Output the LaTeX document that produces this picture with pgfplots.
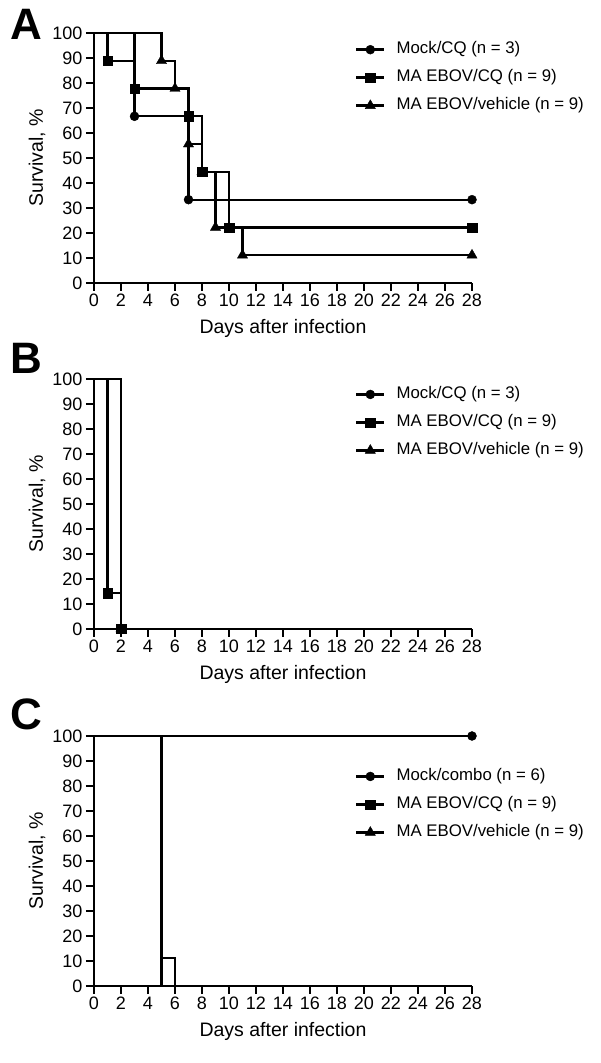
\documentclass[border=0pt]{standalone}
\usepackage{pgfplots}
\pgfplotsset{compat=1.18}
\usepackage{fontspec}
\setmainfont{Liberation Sans}
\pgfplotsset{
  panel/.style={
    width=378pt, height=250pt, scale only axis,
    xmin=0, xmax=28, ymin=0, ymax=100, clip=false,
    axis x line*=bottom, axis y line*=left,
    axis line style={line width=2pt, black},
    xtick={0,2,...,28}, ytick={0,10,...,100},
    tick align=outside, major tick length=8pt,
    tick style={line width=2pt, black},
    tick label style={font=\fontsize{18}{18}\selectfont},
    xticklabel style={text height=13pt, text depth=0pt, yshift=1.5pt},
    /pgf/number format/assume math mode=true,
    xlabel={Days after infection}, ylabel={Survival, \%},
    every axis x label/.style={at={(axis description cs:0.5,-0.204)}, anchor=base, font=\fontsize{19.5}{19.5}\selectfont},
    every axis y label/.style={at={(axis description cs:-0.1508,0.5)}, rotate=90, anchor=center, font=\fontsize{19.5}{19.5}\selectfont},
    legend cell align=left,
    legend style={draw=none, fill=none, anchor=north west,
      font=\fontsize{16.8}{16.8}\selectfont, row sep=10pt,
      inner sep=0pt,
      nodes={inner sep=1pt, text height=12pt, text depth=4pt},
      /tikz/column 1/.style={column sep=10pt}},
    legend image code/.code={\draw[#1,mark repeat=2,mark phase=2] plot coordinates {(0pt,0pt) (14pt,0pt) (28pt,0pt)};},
  },
  ser/.style={black, line width=2.3pt, const plot, no marks, forget plot},
  mk/.style={black, only marks, forget plot, mark options={solid, fill=black, line width=0.4pt}},
  mcirc/.style={mark=*, mark size=4.5pt},
  msq/.style={mark=square*, mark size=4.7pt},
  mtri/.style={mark=triangle*, mark size=5.9pt},
  limg/.style={black, line width=2.6pt, mark options={solid, fill=black, line width=0.4pt}},
}
\begin{document}
\begin{tikzpicture}
\path[use as bounding box] (0pt,0pt) rectangle (600pt,1063pt);
% ---------------- Panel A ----------------
\node[anchor=base west, font=\fontsize{44}{44}\selectfont\bfseries, inner sep=0pt] at (10pt,1023pt) {A};
\begin{axis}[panel, at={(94pt,780pt)}, anchor=south west,
  legend style={at={(axis description cs:0.69,0.97)}}]
\addlegendimage{limg, mcirc}\addlegendentry{Mock/CQ (n = 3)}
\addlegendimage{limg, msq}\addlegendentry{MA EBOV/CQ (n = 9)}
\addlegendimage{limg, mtri}\addlegendentry{MA EBOV/vehicle (n = 9)}
% lines
\addplot[ser] coordinates {(0,100) (3,66.67) (7,33.33) (28,33.33)};
\addplot[ser] coordinates {(0,100) (1,88.89) (3,77.78) (7,66.67) (8,44.44) (10,22.22) (28,22.22)};
\addplot[ser] coordinates {(0,100) (5,88.89) (6,77.78) (7,55.56) (8,44.44) (9,22.22) (11,11.11) (28,11.11)};
% marks
\addplot[mk, mtri] coordinates {(5,88.89) (6,77.78) (7,55.56) (8,44.44) (9,22.22) (11,11.11) (28,11.11)};
\addplot[mk, mcirc] coordinates {(3,66.67) (7,33.33) (28,33.33)};
\addplot[mk, msq] coordinates {(1,88.89) (3,77.78) (7,66.67) (8,44.44) (10,22.22) (28,22.22)};
\end{axis}
% ---------------- Panel B ----------------
\node[anchor=base west, font=\fontsize{44}{44}\selectfont\bfseries, inner sep=0pt] at (10pt,689pt) {B};
\begin{axis}[panel, at={(94pt,434pt)}, anchor=south west,
  legend style={at={(axis description cs:0.69,0.975)}}]
\addlegendimage{limg, mcirc}\addlegendentry{Mock/CQ (n = 3)}
\addlegendimage{limg, msq}\addlegendentry{MA EBOV/CQ (n = 9)}
\addlegendimage{limg, mtri}\addlegendentry{MA EBOV/vehicle (n = 9)}
\addplot[ser] coordinates {(0,100) (2,0)};
\addplot[ser] coordinates {(0,100) (2,0)};
\addplot[ser] coordinates {(0,100) (1,14.29) (2,0)};
\addplot[mk, mcirc] coordinates {(2,0)};
\addplot[mk, mtri] coordinates {(2,0)};
\addplot[mk, msq] coordinates {(1,14.29) (2,0)};
\end{axis}
% ---------------- Panel C ----------------
\node[anchor=base west, font=\fontsize{44}{44}\selectfont\bfseries, inner sep=0pt] at (10pt,333pt) {C};
\begin{axis}[panel, at={(94pt,77pt)}, anchor=south west,
  legend style={at={(axis description cs:0.69,0.875)}}]
\addlegendimage{limg, mcirc}\addlegendentry{Mock/combo (n = 6)}
\addlegendimage{limg, msq}\addlegendentry{MA EBOV/CQ (n = 9)}
\addlegendimage{limg, mtri}\addlegendentry{MA EBOV/vehicle (n = 9)}
\addplot[ser] coordinates {(0,100) (28,100)};
\addplot[ser] coordinates {(0,100) (5,0)};
\addplot[ser] coordinates {(0,100) (5,11.11) (6,0)};
\addplot[mk, mcirc] coordinates {(28,100)};
\end{axis}
\end{tikzpicture}
\end{document}
